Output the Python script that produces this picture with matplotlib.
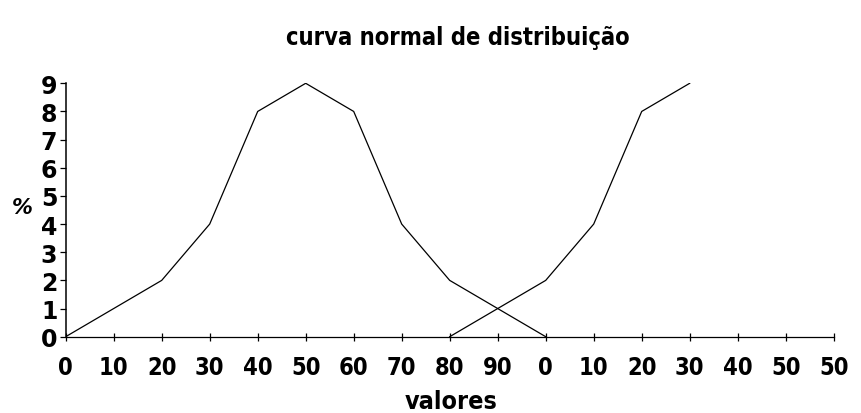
import numpy as np
import matplotlib
matplotlib.use("Agg")
import matplotlib.pyplot as plt

# categorias do eixo x (valores) e frequencias em %
categorias = ["0", "10", "20", "30", "40", "50", "60", "70", "80", "90",
              "0", "10", "20", "30", "40", "50", "50"]
serie1 = [0, 1, 2, 4, 8, 9, 8, 4, 2, 1, 0] + [np.nan] * 6
serie2 = [np.nan] * 8 + [0, 1, 2, 4, 8, 9] + [np.nan] * 3
y_ticks = list(range(0, 10))

fig = plt.figure(figsize=(8.61, 4.14), dpi=100)
ax = fig.add_axes([0.0763, 0.1843, 0.892, 0.6121])

x = np.arange(len(categorias))
ax.plot(x, serie1, color="black", lw=0.9)
ax.plot(x, serie2, color="black", lw=0.9)

ax.set_xlim(0, len(categorias) - 1)
ax.set_ylim(0, 9)
ax.set_xticks(x)
ax.set_xticklabels(categorias)
ax.set_yticks(y_ticks)

for s in ("top", "right"):
    ax.spines[s].set_visible(False)
ax.spines["left"].set_linewidth(1.1)
ax.spines["bottom"].set_linewidth(0.9)

ax.tick_params(axis="y", direction="out", length=4, width=0.9, pad=2)
ax.tick_params(axis="x", direction="inout", length=6, width=0.9, pad=10)
for lab in ax.get_yticklabels():
    lab.set_fontproperties(dict(family="DejaVu Sans", weight="bold",
                                stretch="normal", size=17))
for lab in ax.get_xticklabels():
    lab.set_fontproperties(dict(family="DejaVu Sans", weight="bold",
                                stretch="condensed", size=17))

fig.text(0.532, 0.908, "curva normal de distribuição", ha="center", va="center",
         fontsize=17, family="DejaVu Sans", weight="bold", stretch="condensed")
fig.text(0.524, 0.0, "valores", ha="center", va="bottom",
         fontsize=18, family="DejaVu Sans", weight="bold", stretch="condensed")
fig.text(0.026, 0.497, "%", ha="center", va="center",
         fontsize=15, family="DejaVu Sans", weight="bold", style="italic")

fig.savefig("out.png", dpi=100)
